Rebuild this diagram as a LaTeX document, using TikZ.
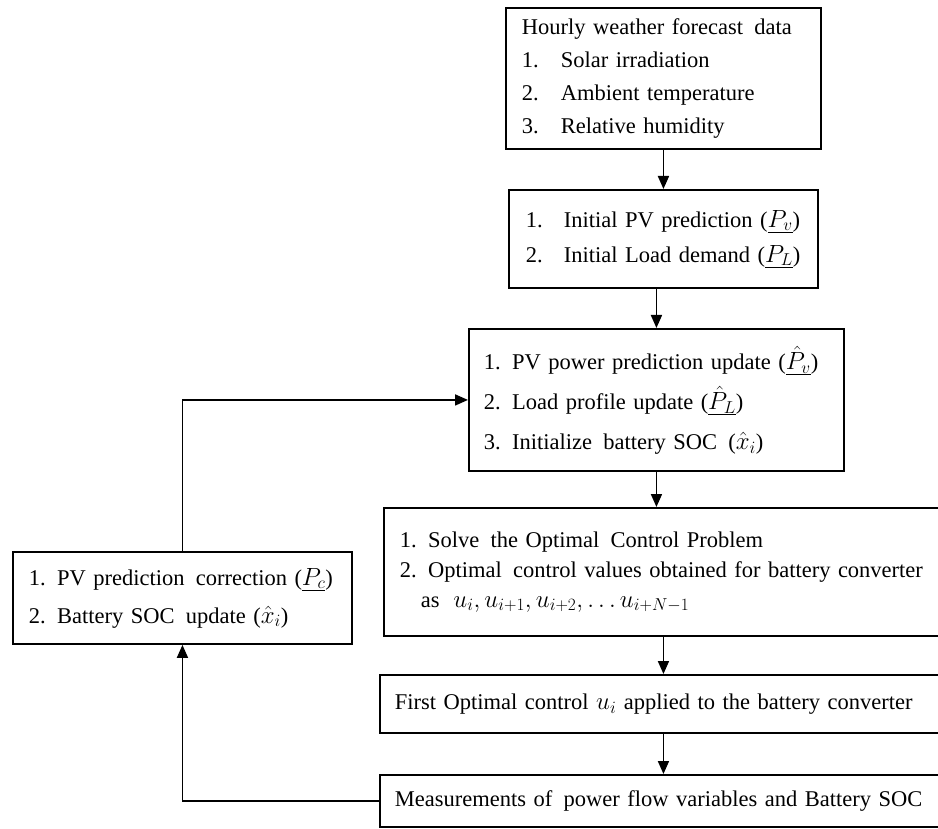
\documentclass[tikz,border=0pt]{standalone}
\usepackage{fontspec}
\setmainfont{Liberation Serif}
\usepackage{tikz}
\usetikzlibrary{arrows.meta, positioning}

\newcommand{\mathbig}[1]{{\fontsize{25}{30}\selectfont$#1$}}

\begin{document}
\begin{tikzpicture}[
  x=1pt, y=1pt,
  blk/.style={rectangle, draw, line width=1.9pt, anchor=north west, align=left, inner xsep=16pt, inner ysep=0pt, font=\fontsize{22.5}{33}\selectfont},
  arrow/.style={-{Triangle[length=13pt, width=11pt]}, line width=1.8pt},
]
  \useasboundingbox (0,0) rectangle (938,-829);

  % forecast and prediction chain
  \node[blk, text width=283pt, minimum width=315pt, minimum height=141pt] (wx) at (505,-7)
    {Hourly weather forecast\, data\\\makebox[39pt][l]{1.}Solar irradiation\\\makebox[39pt][l]{2.}Ambient temperature\\\makebox[39pt][l]{3.}Relative humidity};
  \node[blk, text width=275pt, minimum width=309pt, minimum height=98pt, font=\fontsize{22.5}{35}\selectfont] (init) at (508,-189)
    {\makebox[38pt][l]{1.}Initial PV prediction (\mathbig{\underline{P_v}})\\\makebox[38pt][l]{2.}Initial Load demand (\mathbig{\underline{P_L}})};
  \node[blk, inner xsep=15pt, text width=345pt, minimum width=375pt, minimum height=142pt, font=\fontsize{22.5}{40}\selectfont] (upd) at (468,-328)
    {1. PV power prediction update (\mathbig{\underline{\hat{P}_v}})\\2. Load profile update (\mathbig{\underline{\hat{P}_L}})\\3. Initialize\, battery SOC\, (\mathbig{\hat{x}_i})};

  % control blocks (cut at right edge)
  \node[blk, text width=588pt, minimum width=620pt, minimum height=128pt, font=\fontsize{22.5}{30}\selectfont] (solve) at (383,-507)
    {1. Solve\, the Optimal\, Control Problem\\2. Optimal\, control values obtained for battery converter\\\hspace*{21pt}as\; \mathbig{u_i, u_{i+1}, u_{i+2}, \dots u_{i+N-1}}};
  \node[blk, inner xsep=15pt, text width=594pt, minimum width=624pt, minimum height=58pt] (first) at (379,-674)
    {First Optimal control \mathbig{u_i} applied to the battery converter};
  \node[blk, inner xsep=15pt, text width=594pt, minimum width=624pt, minimum height=52pt] (meas) at (379,-774)
    {Measurements of\, power flow variables and Battery SOC};

  % feedback block
  \node[blk, text width=307pt, minimum width=339pt, minimum height=92pt, font=\fontsize{22.5}{38}\selectfont] (corr) at (12,-551)
    {1. PV prediction\, correction (\mathbig{\underline{P_c}})\\2. Battery SOC\, update (\mathbig{\hat{x}_i})};

  \draw[arrow] (wx) -- (init);
  \draw[arrow] (upd.north |- init.south) -- (upd);
  \draw[arrow] (upd.south) -- (upd.south |- solve.north);
  \draw[arrow] (solve.south -| wx.south) -- (first.north -| wx.south);
  \draw[arrow] (first.south -| wx.south) -- (meas.north -| wx.south);
  \draw[arrow] (meas.west) -| (corr.south);
  \draw[arrow] (corr.north) |- (upd.west);
\end{tikzpicture}
\end{document}
